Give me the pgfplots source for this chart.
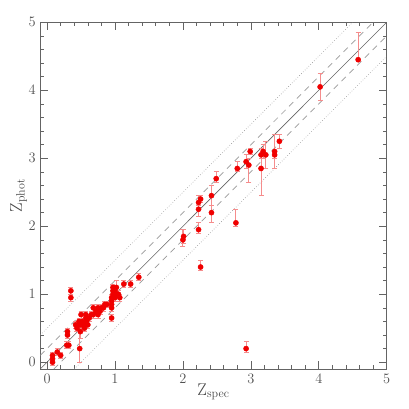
\documentclass[border=0pt]{standalone}
\usepackage{pgfplots}
\pgfplotsset{compat=1.18}
\usepackage{xcolor}
\definecolor{ptred}{RGB}{240,0,0}
\definecolor{errpink}{RGB}{245,140,140}
\definecolor{axgray}{RGB}{100,100,100}

\pgfplotstableread{
x y ep em
4.58 4.45 0.40 0.02
4.02 4.05 0.20 0.20
3.42 3.25 0.10 0.10
3.35 3.10 0.25 0.25
3.35 3.05 0.05 0.05
3.22 3.05 0.20 0.20
3.18 3.10 0.10 0.10
3.15 3.05 0.10 0.05
3.15 2.85 0.20 0.40
2.99 3.10 0.05 0.05
2.97 2.90 0.10 0.25
2.93 2.95 0.10 0.10
2.80 2.85 0.10 0.05
2.78 2.05 0.20 0.05
2.93 0.20 0.10 0.05
2.49 2.70 0.10 0.05
2.42 2.45 0.15 0.15
2.42 2.20 0.10 0.15
2.26 2.40 0.05 0.05
2.23 2.35 0.10 0.05
2.23 2.25 0.10 0.10
2.23 1.95 0.10 0.05
2.26 1.40 0.10 0.05
2.00 1.80 0.15 0.10
2.01 1.85 0.10 0.10
1.35 1.25 0.05 0.05
1.23 1.15 0.05 0.05
1.13 1.15 0.05 0.05
1.07 0.95 0.05 0.05
1.05 1.00 0.05 0.05
1.02 1.10 0.10 0.05
1.02 1.00 0.05 0.05
1.00 1.05 0.05 0.05
1.00 0.95 0.05 0.05
0.97 1.10 0.05 0.05
0.97 1.05 0.05 0.05
0.97 1.00 0.05 0.05
0.95 0.95 0.05 0.05
0.95 0.90 0.05 0.05
0.95 0.85 0.05 0.05
0.95 0.80 0.05 0.05
0.95 0.65 0.05 0.05
0.88 0.85 0.05 0.05
0.85 0.85 0.05 0.05
0.83 0.80 0.05 0.05
0.80 0.80 0.05 0.05
0.78 0.75 0.05 0.05
0.75 0.80 0.05 0.05
0.75 0.70 0.05 0.05
0.72 0.75 0.05 0.05
0.68 0.80 0.05 0.05
0.68 0.70 0.05 0.05
0.65 0.70 0.05 0.05
0.62 0.65 0.05 0.05
0.60 0.65 0.05 0.05
0.60 0.55 0.05 0.05
0.58 0.60 0.05 0.05
0.57 0.70 0.05 0.05
0.57 0.65 0.05 0.05
0.55 0.55 0.05 0.05
0.55 0.50 0.05 0.05
0.52 0.60 0.05 0.05
0.50 0.70 0.05 0.05
0.50 0.55 0.10 0.10
0.49 0.45 0.10 0.10
0.48 0.20 0.25 0.20
0.47 0.60 0.05 0.05
0.47 0.55 0.05 0.05
0.44 0.50 0.05 0.05
0.42 0.55 0.05 0.05
0.35 1.05 0.05 0.05
0.35 0.95 0.05 0.05
0.30 0.45 0.05 0.05
0.30 0.40 0.05 0.05
0.29 0.25 0.05 0.05
0.32 0.25 0.05 0.05
0.20 0.10 0.05 0.05
0.15 0.15 0.05 0.05
0.08 0.10 0.05 0.05
0.08 0.05 0.05 0.05
0.08 0.00 0.05 0.05
}\zdata

\pgfplotstableread{
x y
-0.1 -0.1
5.0 5.0
}\oneone
\pgfplotstableread{
x y
-0.1 0.1
4.8 5.0
}\dashup
\pgfplotstableread{
x y
0.1 -0.1
5.0 4.8
}\dashlo
\pgfplotstableread{
x y
-0.1 0.4
4.5 5.0
}\dotup
\pgfplotstableread{
x y
0.4 -0.1
5.0 4.5
}\dotlo

\begin{document}
\begin{tikzpicture}
\begin{axis}[
    scale only axis,
    width=346.4pt, height=346.7pt,
    xmin=-0.1, xmax=5, ymin=-0.1, ymax=5,
    xtick={0,1,2,3,4,5}, ytick={0,1,2,3,4,5},
    minor tick num=4,
    tick align=inside,
    major tick length=8pt, minor tick length=4pt,
    axis line style={axgray, line width=0.6pt},
    tick style={axgray, line width=0.6pt},
    ticklabel style={font=\fontsize{14.5}{16}\selectfont, text=axgray!80!black},
    xticklabel style={yshift=-2pt},
    yticklabel style={xshift=-1pt},
    xlabel={Z$_{\mathrm{spec}}$}, ylabel={Z$_{\mathrm{phot}}$},
    label style={font=\fontsize{17}{20}\selectfont, text=axgray!70!black},
    xlabel style={yshift=7pt},
    ylabel style={yshift=-5pt},
    clip=true,
]
\addplot[axgray, line width=0.6pt] table {\oneone};
\addplot[gray!80, line width=0.7pt, dash pattern=on 6pt off 5pt] table {\dashup};
\addplot[gray!80, line width=0.7pt, dash pattern=on 6pt off 5pt] table {\dashlo};
\addplot[gray!80, line width=0.6pt, dotted] table {\dotup};
\addplot[gray!80, line width=0.6pt, dotted] table {\dotlo};

\addplot[errpink, only marks, mark=none,
    error bars/.cd, y dir=both, y explicit,
    error bar style={errpink, line width=0.9pt},
    error mark options={errpink, rotate=90, mark size=2.5pt, line width=0.8pt}]
    table[x=x, y=y, y error plus=ep, y error minus=em] {\zdata};
\addplot[only marks, mark=*, mark size=2.6pt, ptred, mark options={draw=ptred, fill=ptred}]
    table[x=x, y=y] {\zdata};
\end{axis}
\pgfresetboundingbox
\path ([shift={(-40.3pt,-40pt)}]current axis.south west) rectangle ([shift={(22.3pt,22.3pt)}]current axis.north east);
\end{tikzpicture}
\end{document}
